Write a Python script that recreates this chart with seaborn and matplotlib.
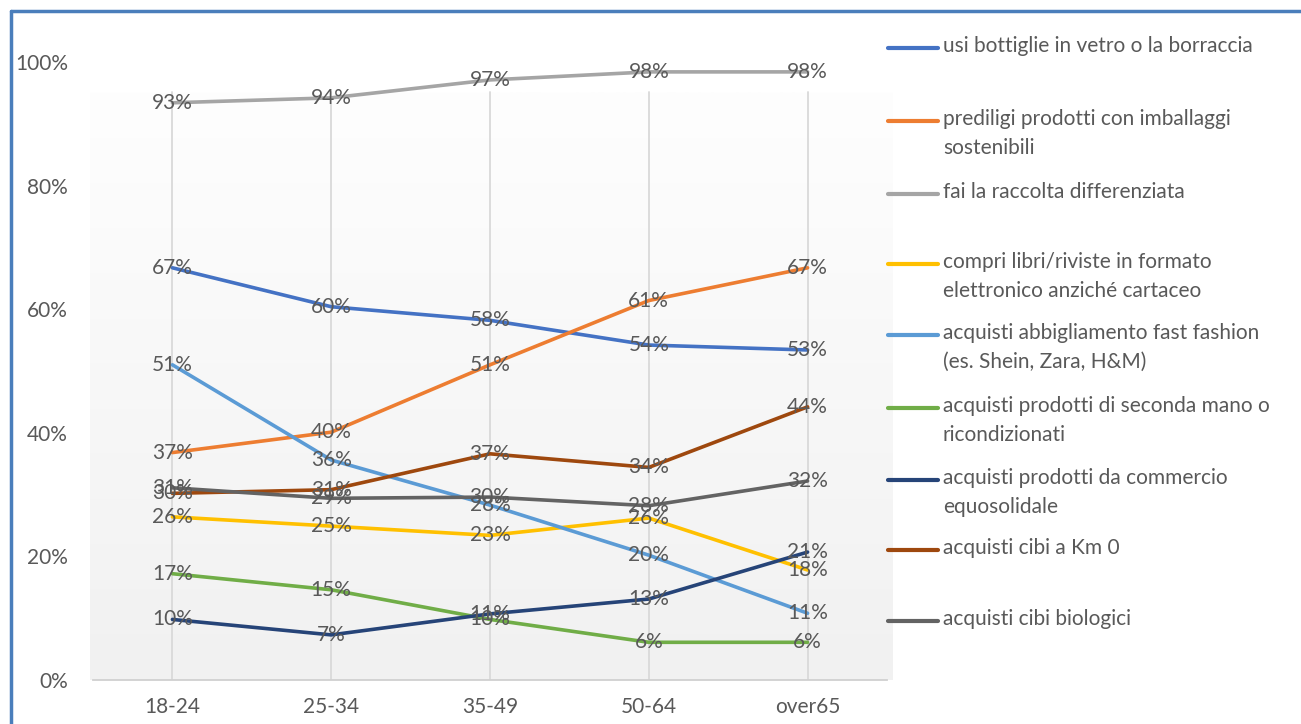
import numpy as np
import pandas as pd
import matplotlib
matplotlib.use("Agg")
import matplotlib.pyplot as plt
from matplotlib.lines import Line2D
import seaborn as sns

categories = ["18-24", "25-34", "35-49", "50-64", "over65"]

series_names = [
    "usi bottiglie in vetro o la borraccia",
    "prediligi prodotti con imballaggi\nsostenibili",
    "fai la raccolta differenziata",
    "compri libri/riviste in formato\nelettronico anziché cartaceo",
    "acquisti abbigliamento fast fashion\n(es. Shein, Zara, H&M)",
    "acquisti prodotti di seconda mano o\nricondizionati",
    "acquisti prodotti da commercio\nequosolidale",
    "acquisti cibi a Km 0",
    "acquisti cibi biologici",
]

bottiglie = [66.7, 60.4, 58.2, 54.2, 53.4]
imballaggi = [36.8, 40.1, 51.0, 61.4, 66.7]
differenziata = [93.4, 94.2, 97.1, 98.4, 98.4]
libri = [26.4, 24.9, 23.4, 26.2, 17.8]
fast_fashion = [51.0, 35.6, 28.3, 20.2, 10.8]
seconda_mano = [17.2, 14.6, 9.8, 6.1, 6.1]
equosolidale = [9.8, 7.3, 10.7, 13.1, 20.7]
km0 = [30.2, 30.8, 36.6, 34.4, 44.2]
biologici = [31.1, 29.4, 29.6, 28.2, 32.2]

series_values = [bottiglie, imballaggi, differenziata, libri, fast_fashion,
                 seconda_mano, equosolidale, km0, biologici]

colors = ["#4472C4", "#ED7D31", "#A5A5A5", "#FFC000", "#5B9BD5",
          "#70AD47", "#264478", "#9E480E", "#636363"]

yticks = [0, 20, 40, 60, 80, 100]
ytick_labels = ["0%", "20%", "40%", "60%", "80%", "100%"]

rows = []
for name, vals in zip(series_names, series_values):
    for c, v in zip(categories, vals):
        rows.append({"categoria": c, "valore": v, "serie": name})
df = pd.DataFrame(rows)

sns.set_theme(style="white")
plt.rcParams["font.family"] = ["Lato", "DejaVu Sans"]
text_color = "#595959"
fs = 15

W, H = 1301, 724
fig = plt.figure(figsize=(W / 100, H / 100), dpi=100)
fig.patch.set_facecolor("white")

# gradient background panel (white at top, light grey at bottom)
bg = fig.add_axes([90 / W, (H - 680) / H, (893 - 90) / W, (680 - 92) / H], zorder=0)
grad = np.linspace(0.0, 1.0, 256).reshape(-1, 1)
cmap = matplotlib.colors.LinearSegmentedColormap.from_list("g", ["#fefefe", "#f1f1f1"])
bg.imshow(grad, aspect="auto", cmap=cmap, extent=[0, 1, 0, 1], vmin=0, vmax=1)
bg.set_axis_off()

ax_bottom, ax_top = 680, 62
ax = fig.add_axes([93 / W, (H - ax_bottom) / H, (887 - 93) / W, (ax_bottom - ax_top) / H], zorder=1)
ax.patch.set_alpha(0)

# vertical gridlines only inside the shaded panel
grid_top = (ax_bottom - 92) / (ax_bottom - ax_top)
for i in range(len(categories)):
    ax.axvline(i, ymin=0, ymax=grid_top, color="#d9d9d9", linewidth=1.3, zorder=0)

sns.lineplot(data=df, x="categoria", y="valore", hue="serie", palette=colors,
             hue_order=series_names, sort=False, linewidth=2.6, legend=False, ax=ax)

# data labels
for name, vals in zip(series_names, series_values):
    for i, v in enumerate(vals):
        ax.text(i, v, f"{int(v + 0.5)}%", ha="center", va="center",
                fontsize=fs, color=text_color, zorder=5)

ax.set_xlim(-0.5, len(categories) - 0.5)
ax.set_ylim(0, 100)
ax.set_yticks(yticks)
ax.set_yticklabels(ytick_labels)
ax.set_xticks(range(len(categories)))
ax.set_xticklabels(categories)
ax.set_xlabel("")
ax.set_ylabel("")
ax.tick_params(axis="y", length=0, pad=18, labelsize=fs, labelcolor=text_color)
ax.tick_params(axis="x", length=0, pad=12, labelsize=fs, labelcolor=text_color)
ax.grid(False)
for s in ["top", "right", "left"]:
    ax.spines[s].set_visible(False)
ax.spines["bottom"].set_color("#d0d0d0")
ax.spines["bottom"].set_linewidth(1.3)

# legend drawn manually
leg_y = [48, 121, 194, 264, 335, 408, 480, 550, 621]
for name, col, y in zip(series_names, colors, leg_y):
    yf = (H - y) / H
    fig.add_artist(Line2D([888 / W, 938 / W], [yf, yf], color=col, linewidth=3,
                          solid_capstyle="round"))
    fig.text(943 / W, (H - y + 12) / H, name, ha="left", va="top", fontsize=fs,
             color=text_color, linespacing=1.55)

# blue frame
fig.add_artist(Line2D([11 / W, 1], [(H - 11) / H, (H - 11) / H], color="#4a7ebb", linewidth=2.5))
fig.add_artist(Line2D([11 / W, 11 / W], [0, (H - 11) / H], color="#4a7ebb", linewidth=2.5))

fig.savefig("out.png", dpi=100)
